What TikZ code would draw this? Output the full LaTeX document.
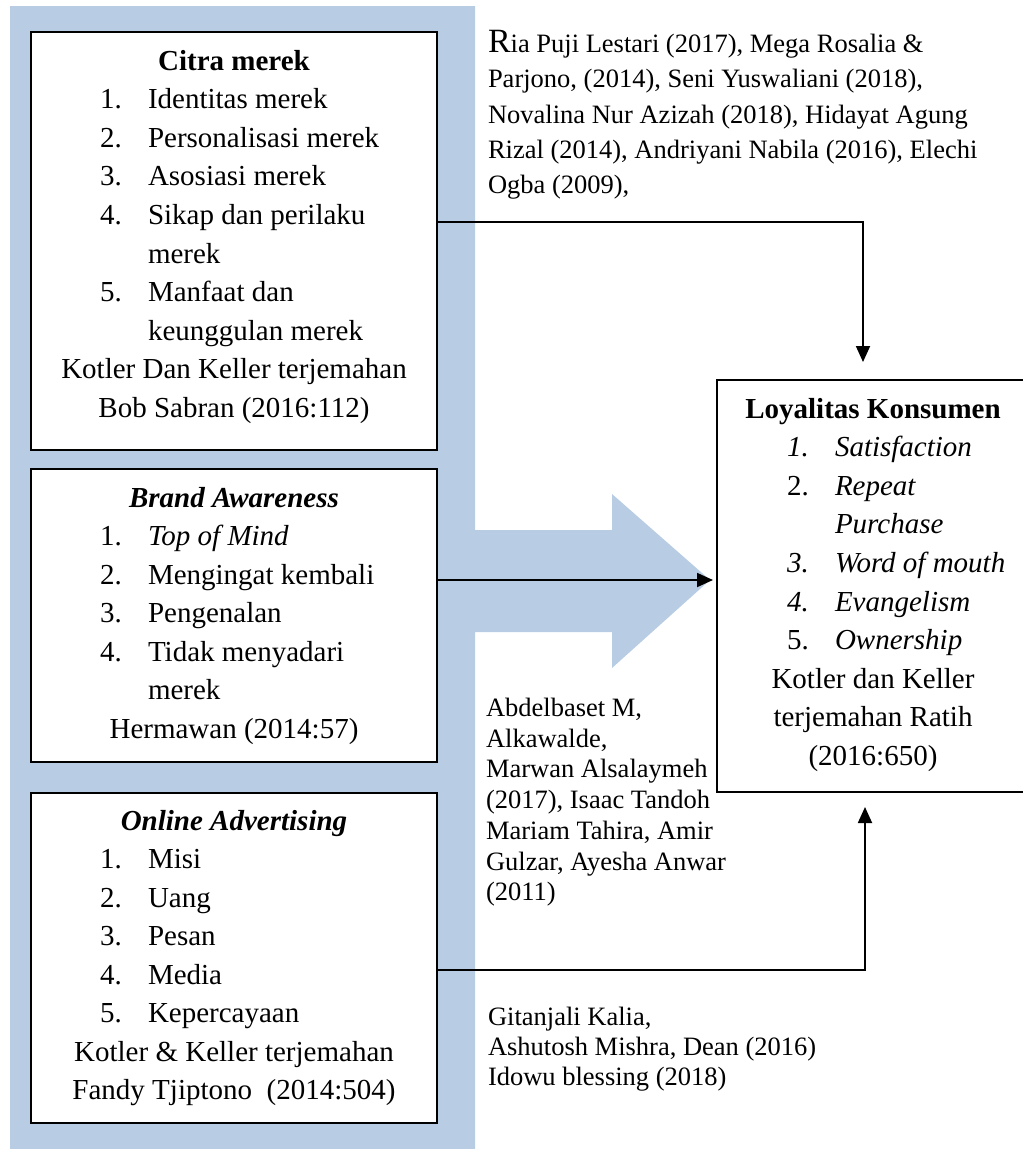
\documentclass[tikz,border=0pt]{standalone}
\usepackage{fontspec}
\setmainfont{Liberation Serif}
\usetikzlibrary{arrows.meta}
\definecolor{bandblue}{RGB}{184,204,228}
\tikzset{
  txt/.style={inner sep=0pt, outer sep=0pt, font=\fontsize{29}{38}\selectfont},
  num/.style={txt, anchor=base west},
  itm/.style={txt, anchor=base west},
  ctr/.style={txt, anchor=base},
  cite/.style={inner sep=0pt, outer sep=0pt, anchor=base west, font=\fontsize{26.5}{31}\selectfont},
  box/.style={draw, line width=1.3pt, fill=white, inner sep=0pt, outer sep=0pt, anchor=north west},
  arr/.style={line width=1.8pt, -{Triangle[length=16pt,width=14pt]}},
}
\begin{document}
\begin{tikzpicture}[x=1pt,y=-1pt]
\useasboundingbox (0,0) rectangle (1023,1149);
% blue band with arrow
\fill[bandblue] (10,6) -- (475,6) -- (475,530) -- (612,530) -- (612,494) -- (710,580)
  -- (612,668) -- (612,632) -- (475,632) -- (475,1152) -- (10,1152) -- cycle;

% boxes
\node[box, minimum width=406pt, minimum height=418pt] (c1) at (31,32) {};
\node[box, minimum width=406pt, minimum height=293pt] (c2) at (31,469) {};
\node[box, minimum width=406pt, minimum height=330pt] (c3) at (31,793) {};
\node[box, minimum width=330pt, minimum height=412pt] (loy) at (717,380) {};

% box 1
\node[ctr] (c1t) at (234,70) {\bfseries Citra merek};
\node[num] (c1n1) at (100,108.6) {1.};
\node[itm] (c1i1) at (148,108.6) {Identitas merek};
\node[num] (c1n2) at (100,147.2) {2.};
\node[itm] (c1i2) at (148,147.2) {Personalisasi merek};
\node[num] (c1n3) at (100,185.8) {3.};
\node[itm] (c1i3) at (148,185.8) {Asosiasi merek};
\node[num] (c1n4) at (100,224.4) {4.};
\node[itm] (c1i4) at (148,224.4) {Sikap dan perilaku};
\node[itm] (c1i4b) at (148,263) {merek};
\node[num] (c1n5) at (100,301.6) {5.};
\node[itm] (c1i5) at (148,301.6) {Manfaat dan};
\node[itm] (c1i5b) at (148,340.2) {keunggulan merek};
\node[ctr] (c1s1) at (234,378.8) {Kotler Dan Keller terjemahan};
\node[ctr] (c1s2) at (234,417.4) {Bob Sabran (2016:112)};

% box 2
\node[ctr] (c2t) at (234,507) {\bfseries\itshape Brand Awareness};
\node[num] (c2n1) at (100,545.5) {1.};
\node[itm] (c2i1) at (148,545.5) {\itshape Top of Mind};
\node[num] (c2n2) at (100,584) {2.};
\node[itm] (c2i2) at (148,584) {Mengingat kembali};
\node[num] (c2n3) at (100,622.5) {3.};
\node[itm] (c2i3) at (148,622.5) {Pengenalan};
\node[num] (c2n4) at (100,661) {4.};
\node[itm] (c2i4) at (148,661) {Tidak menyadari};
\node[itm] (c2i4b) at (148,699.5) {merek};
\node[ctr] (c2s) at (234,738) {Hermawan (2014:57)};

% box 3
\node[ctr] (c3t) at (234,830) {\bfseries\itshape Online Advertising};
\node[num] (c3n1) at (100,868.5) {1.};
\node[itm] (c3i1) at (148,868.5) {Misi};
\node[num] (c3n2) at (100,907) {2.};
\node[itm] (c3i2) at (148,907) {Uang};
\node[num] (c3n3) at (100,945.5) {3.};
\node[itm] (c3i3) at (148,945.5) {Pesan};
\node[num] (c3n4) at (100,984) {4.};
\node[itm] (c3i4) at (148,984) {Media};
\node[num] (c3n5) at (100,1022.5) {5.};
\node[itm] (c3i5) at (148,1022.5) {Kepercayaan};
\node[ctr] (c3s1) at (234,1061) {Kotler \& Keller terjemahan};
\node[ctr] (c3s2) at (234,1099.5) {Fandy Tjiptono\ \ (2014:504)};

% right box
\node[ctr] (lt) at (873,418) {\bfseries Loyalitas Konsumen};
\node[num] (ln1) at (787,456.6) {\itshape 1.};
\node[itm] (li1) at (835,456.6) {\itshape Satisfaction};
\node[num] (ln2) at (787,495.2) {2.};
\node[itm] (li2) at (835,495.2) {\itshape Repeat};
\node[itm] (li2b) at (835,533.8) {\itshape Purchase};
\node[num] (ln3) at (787,572.4) {\itshape 3.};
\node[itm] (li3) at (835,572.4) {\itshape Word of mouth};
\node[num] (ln4) at (787,611) {\itshape 4.};
\node[itm] (li4) at (835,611) {\itshape Evangelism};
\node[num] (ln5) at (787,649.6) {5.};
\node[itm] (li5) at (835,649.6) {\itshape Ownership};
\node[ctr] (ls1) at (873,688.2) {Kotler dan Keller};
\node[ctr] (ls2) at (873,726.8) {terjemahan Ratih};
\node[ctr] (ls3) at (873,765.4) {(2016:650)};

% citations
\node[cite] (r1) at (488,52) {{\fontsize{34}{34}\selectfont R}ia Puji Lestari (2017), Mega Rosalia \&};
\node[cite] (r2) at (488,87.5) {Parjono, (2014), Seni Yuswaliani (2018),};
\node[cite] (r3) at (488,123) {Novalina Nur Azizah (2018), Hidayat Agung};
\node[cite] (r4) at (488,158) {Rizal (2014), Andriyani Nabila (2016), Elechi};
\node[cite] (r5) at (488,193) {Ogba (2009),};

\node[cite] (m1) at (486,716) {Abdelbaset M,};
\node[cite] (m2) at (486,747) {Alkawalde,};
\node[cite] (m3) at (486,777.6) {Marwan Alsalaymeh};
\node[cite] (m4) at (486,808.4) {(2017), Isaac Tandoh};
\node[cite] (m5) at (486,839.2) {Mariam Tahira, Amir};
\node[cite] (m6) at (486,870) {Gulzar, Ayesha Anwar};
\node[cite] (m7) at (486,900.8) {(2011)};

\node[cite] (b1) at (488,1025) {Gitanjali Kalia,};
\node[cite] (b2) at (488,1055) {Ashutosh Mishra, Dean (2016)};
\node[cite] (b3) at (488,1085) {Idowu blessing (2018)};

% connectors
\coordinate (k1) at (863,222);
\coordinate (k2) at (600,580);
\coordinate (k3) at (865,970);
\draw[arr, shorten >=18pt] (c1.east |- k1) -- (k1) -- (loy.north -| k1);
\draw[arr, shorten >=4pt] (c2.east |- k2) -- (loy.west |- k2);
\draw[arr, shorten >=15pt] (c3.east |- k3) -- (k3) -- (loy.south -| k3);
\end{tikzpicture}
\end{document}
